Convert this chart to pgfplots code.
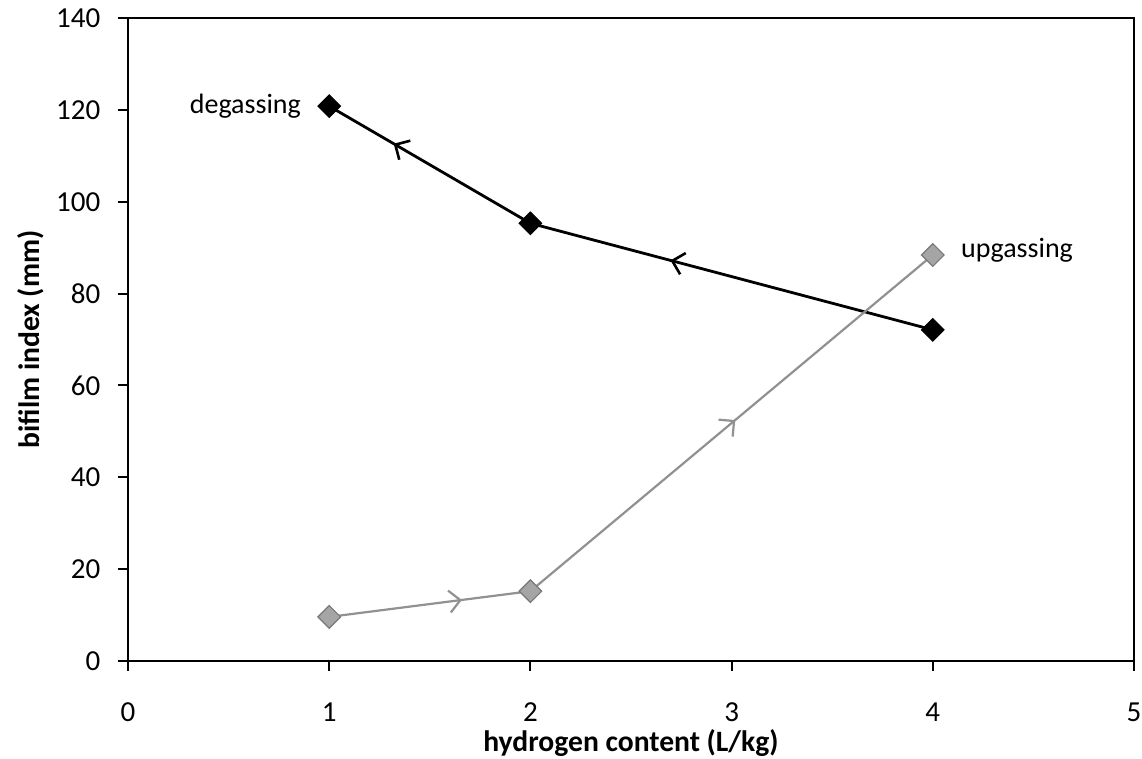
\documentclass[border=0pt]{standalone}
\usepackage{pgfplots}
\pgfplotsset{compat=1.18}
\usepackage{fontspec}
\setmainfont{Carlito}
\usetikzlibrary{arrows.meta,decorations.markings}
\definecolor{upgray}{RGB}{145,145,145}
\definecolor{upfill}{RGB}{165,165,165}
\definecolor{upedge}{RGB}{120,120,120}
\begin{document}
\fontsize{14}{16}\selectfont
\begin{tikzpicture}
\begin{axis}[
  name=ax,
  scale only axis,
  width=503pt, height=321.5pt,
  xmin=0, xmax=5, ymin=0, ymax=140,
  xtick={0,1,2,3,4,5}, ytick={0,20,40,60,80,100,120,140},
  tick align=outside,
  xtick pos=bottom, ytick pos=left,
  major tick length=5pt,
  axis line style={line width=1pt},
  tick style={line width=1pt, black},
  /pgf/number format/assume math mode=true,
  ticklabel style={font=\fontsize{14.5}{16}\selectfont},
  yticklabel style={xshift=-4pt},
  xticklabel style={yshift=-11pt},
  xlabel={\textbf{hydrogen content (L/kg)}},
  ylabel={\textbf{bifilm index (mm)}},
  xlabel style={at={(axis description cs:0.5,0)}, anchor=base, yshift=-45.5pt, font=\fontsize{14.8}{16}\selectfont},
  ylabel style={at={(axis description cs:0,0.5)}, anchor=base, rotate=0, yshift=44pt, font=\fontsize{14.8}{16}\selectfont},
  clip=false,
]
% degassing: plotted in process order 4 -> 2 -> 1
\addplot[black, line width=1.4pt, no markers,
  postaction={decorate},
  decoration={markings,
    mark=at position 0.418 with {\arrow{Straight Barb[length=5.5pt,width=11pt,line width=1.3pt]}},
    mark=at position 0.885 with {\arrow{Straight Barb[length=5.5pt,width=11pt,line width=1.3pt]}}}]
  coordinates {(4,72.1) (2,95.3) (1,120.8)};
\addplot[only marks, mark=square*, mark size=4pt, mark options={rotate=45, fill=black, draw=black, line width=0.5pt}]
  coordinates {(4,72.1) (2,95.3) (1,120.8)};
% upgassing: 1 -> 2 -> 4
\addplot[upgray, line width=1.1pt, no markers,
  postaction={decorate},
  decoration={markings,
    mark=at position 0.184 with {\arrow{Straight Barb[length=5.5pt,width=11pt,line width=1.1pt]}},
    mark=at position 0.646 with {\arrow{Straight Barb[length=5.5pt,width=11pt,line width=1.1pt]}}}]
  coordinates {(1,9.6) (2,15.2) (4,88.4)};
\addplot[only marks, mark=square*, mark size=4pt, mark options={rotate=45, fill=upfill, draw=upedge, line width=0.6pt}]
  coordinates {(1,9.6) (2,15.2) (4,88.4)};
\node[anchor=east, inner sep=0pt] at ([xshift=-14pt,yshift=0pt]axis cs:1,120.8) {degassing};
\node[anchor=west, inner sep=0pt] at ([xshift=14pt,yshift=2.5pt]axis cs:4,88.4) {upgassing};
\end{axis}
\pgfresetboundingbox
\path[use as bounding box] ([xshift=-64pt,yshift=-49pt]ax.south west) rectangle ([xshift=4pt,yshift=9pt]ax.north east);
\end{tikzpicture}
\end{document}
